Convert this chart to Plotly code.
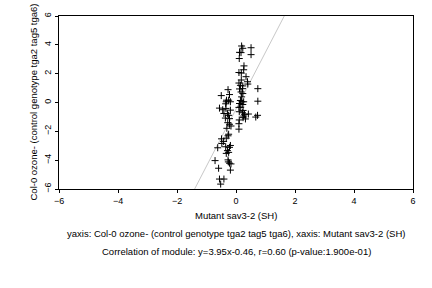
import plotly.graph_objects as go

x_vals = [0.19, 0.23, 0.51, 0.12, 0.17, 0.51, 0.11, 0.27, 0.26, 0.10, 0.18, 0.34, 0.18, 0.39, 0.40,
          0.10, 0.15, 0.23, 0.12, 0.22, 0.74, 0.17, 0.23, 0.19, 0.15, 0.20, 0.26, 0.74, 0.12, 0.23,
          0.10, 0.16, 0.24, 0.11, 0.22, 0.29, 0.42, 0.73, 0.67, 0.26, 0.24, 0.32, 0.11, 0.10, 0.10,
          -0.27, -0.50, -0.22, -0.32, -0.25, -0.33, -0.19, -0.35, -0.56, -0.45, -0.34, -0.19, -0.41,
          -0.29, -0.25, -0.36, -0.22, -0.28, -0.22, -0.17, -0.31, -0.25, -0.27, -0.33, -0.49, -0.42,
          -0.48, -0.19, -0.22, -0.35, -0.62, -0.29, -0.25, -0.33, -0.27, -0.71, -0.26, -0.22, -0.17,
          -0.59, -0.19, -0.56, -0.41, -0.52]
y_vals = [3.92, 3.76, 3.80, 3.48, 3.46, 3.32, 3.05, 2.54, 2.27, 2.08, 2.04, 1.79, 1.56, 1.44, 1.28,
          1.35, 1.19, 1.15, 0.94, 0.96, 0.96, 0.73, 0.62, 0.39, 0.14, 0.05, 0.05, 0.09, -0.07, -0.14,
          -0.34, -0.32, -0.55, -0.64, -0.71, -0.82, -0.80, -0.89, -1.01, -0.94, -1.05, -1.14, -1.21, -1.47, -1.85,
          0.89, 0.48, 0.55, 0.16, 0.16, 0.05, 0.05, -0.09, -0.39, -0.50, -0.41, -0.53, -0.76,
          -0.78, -0.89, -1.08, -1.12, -1.40, -1.51, -1.63, -1.79, -2.20, -2.31, -2.47, -2.52, -2.70,
          -2.84, -2.98, -3.11, -3.07, -3.14, -3.34, -3.46, -3.53, -3.98, -4.03, -4.12, -4.21, -4.26,
          -4.56, -4.69, -5.31, -5.31, -5.66]

slope = 3.95
intercept = -0.46
y_line = [-6, 6]
x_line = [(v - intercept) / slope for v in y_line]

tick_vals = [-6, -4, -2, 0, 2, 4, 6]
x_title = "Mutant sav3-2 (SH)"
y_title = "Col-0 ozone- (control genotype tga2 tag5 tga6)"
caption1 = "yaxis: Col-0 ozone- (control genotype tga2 tag5 tga6), xaxis: Mutant sav3-2 (SH)"
caption2 = "Correlation of module: y=3.95x-0.46, r=0.60 (p-value:1.900e-01)"

FONT = "Liberation Sans, Arial, sans-serif"
FS = 9.5

fig = go.Figure()
fig.add_trace(go.Scatter(x=x_line, y=y_line, mode="lines",
                         line=dict(color="#c8c8c8", width=1), showlegend=False))
fig.add_trace(go.Scatter(x=x_vals, y=y_vals, mode="markers",
                         marker=dict(symbol="cross-thin", size=5, color="black",
                                     line=dict(color="black", width=1)),
                         showlegend=False))

axis_common = dict(range=[-6, 6], tickvals=tick_vals, showgrid=False, zeroline=False,
                   showline=True, linecolor="black", linewidth=1, mirror=True,
                   ticks="outside", ticklen=3, tickcolor="black",
                   tickfont=dict(family=FONT, size=9, color="black"))

fig.update_layout(
    width=432, height=288,
    margin=dict(l=59, r=19, t=13, b=99),
    paper_bgcolor="white", plot_bgcolor="white",
    xaxis=dict(**axis_common),
    yaxis=dict(**axis_common, tickangle=-90),
    font=dict(family=FONT, size=FS, color="black"),
    annotations=[
        dict(text=x_title, xref="paper", yref="paper", x=0.5, y=0, yshift=-26,
             showarrow=False, xanchor="center", yanchor="middle", font=dict(size=FS)),
        dict(text=y_title, xref="paper", yref="paper", x=0, y=0.5, xshift=-26,
             showarrow=False, textangle=-90, xanchor="center", yanchor="middle", font=dict(size=FS)),
        dict(text=caption1, xref="paper", yref="paper", x=0.5, y=0, yshift=-44,
             showarrow=False, xanchor="center", yanchor="middle", font=dict(size=FS)),
        dict(text=caption2, xref="paper", yref="paper", x=0.5, y=0, yshift=-62,
             showarrow=False, xanchor="center", yanchor="middle", font=dict(size=FS)),
    ],
)

fig.write_html("out.html")
